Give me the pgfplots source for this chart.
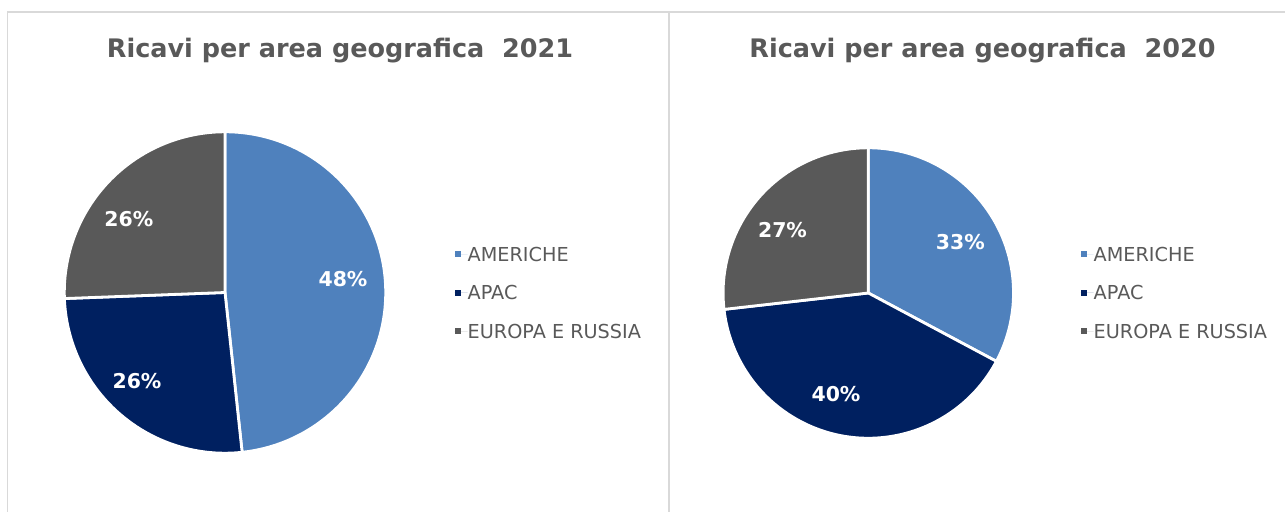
\documentclass[border=0pt]{standalone}
\usepackage{fontspec}
\setmainfont{DejaVu Sans}
\usepackage{pgfplots}
\usepackage{pgfplotstable}
\pgfplotsset{compat=1.18}
\definecolor{amer}{HTML}{4F81BD}
\definecolor{apac}{HTML}{002060}
\definecolor{eur}{HTML}{595959}
\definecolor{txtgray}{HTML}{595959}
\definecolor{panel}{HTML}{D9D9D9}

% Revenue shares (percent)
\pgfplotstableread{
region value
Americhe 48.3
APAC 26.1
Europa 25.6
}\datatwentyone
\pgfplotstableread{
region value
Americhe 32.8
APAC 40.4
Europa 26.8
}\datatwentytwenty

\pgfplotsset{
  pieaxis/.style={
    scale only axis, hide axis, clip=false,
    ymin=0, ymax=512, height=512bp,
    legend style={draw=none, fill=none, inner sep=0pt, outer sep=0pt,
      font=\fontsize{19.3}{22}\selectfont, text=txtgray,
      row sep=24.3bp, column sep=0pt,
      cells={anchor=west},
      nodes={inner sep=0pt, outer sep=0pt, text height=14.07bp, text depth=0pt, anchor=west}},
    legend image code/.code={\fill[##1] (0bp,-3.15bp) rectangle (6.3bp,3.15bp); \path (0bp,0bp) -- (13bp,0bp);},
  },
}
\tikzset{
  slice/.style={draw=white, line width=2.8bp, line join=round},
  pielabel/.style={text=white, font=\fontsize{20.5}{24}\selectfont\bfseries},
  pietitle/.style={anchor=base, text=txtgray, font=\fontsize{25.6}{30}\selectfont\bfseries},
}

\begin{document}
\begin{tikzpicture}
\useasboundingbox (0,0) rectangle (1285bp,512bp);
% angles 2021
\pgfplotstablegetelem{0}{value}\of\datatwentyone \let\va\pgfplotsretval
\pgfplotstablegetelem{1}{value}\of\datatwentyone \let\vb\pgfplotsretval
\pgfplotstablegetelem{2}{value}\of\datatwentyone \let\vc\pgfplotsretval
\pgfmathsetmacro{\sone}{\va+\vb+\vc}
\pgfmathsetmacro{\aoneA}{90-360*(\va/\sone)}
\pgfmathsetmacro{\aoneB}{90-360*((\va+\vb)/\sone)}
% angles 2020
\pgfplotstablegetelem{0}{value}\of\datatwentytwenty \let\wa\pgfplotsretval
\pgfplotstablegetelem{1}{value}\of\datatwentytwenty \let\wb\pgfplotsretval
\pgfplotstablegetelem{2}{value}\of\datatwentytwenty \let\wc\pgfplotsretval
\pgfmathsetmacro{\stwo}{\wa+\wb+\wc}
\pgfmathsetmacro{\atwoA}{90-360*(\wa/\stwo)}
\pgfmathsetmacro{\atwoB}{90-360*((\wa+\wb)/\stwo)}

\begin{axis}[pieaxis, at={(0bp,0bp)}, anchor=south west,
  xmin=0, xmax=669, width=669bp,
  legend style={at={(axis cs:454.7,264.7)}, anchor=north west}]
  \draw[panel, line width=1.6bp] (axis cs:7.5,0) -- (axis cs:7.5,500.2) -- (axis cs:669,500.2) -- (axis cs:669,0);
  \fill[amer, slice] (axis cs:225,219.5) -- ++(90:160.7bp) arc[start angle=90, end angle=\aoneA, radius=160.7bp] -- cycle;
  \fill[apac, slice] (axis cs:225,219.5) -- ++(\aoneA:160.7bp) arc[start angle=\aoneA, end angle=\aoneB, radius=160.7bp] -- cycle;
  \fill[eur, slice] (axis cs:225,219.5) -- ++(\aoneB:160.7bp) arc[start angle=\aoneB, end angle=-270, radius=160.7bp] -- cycle;
  \node[pielabel] at (axis cs:343,233) {48\%};
  \node[pielabel] at (axis cs:137,131.2) {26\%};
  \node[pielabel] at (axis cs:128.8,292.7) {26\%};
  \node[pietitle] at (axis cs:340,454) {Ricavi per area geografica\ \ 2021};
  \addlegendimage{fill=amer, draw=none}\addlegendentry{AMERICHE}
  \addlegendimage{fill=apac, draw=none}\addlegendentry{APAC}
  \addlegendimage{fill=eur, draw=none}\addlegendentry{EUROPA E RUSSIA}
\end{axis}

\begin{axis}[pieaxis, at={(669bp,0bp)}, anchor=south west,
  xmin=669, xmax=1285, width=616bp,
  legend style={at={(axis cs:1080.7,264.7)}, anchor=north west}]
  \draw[panel, line width=1.6bp] (axis cs:669,500.2) -- (axis cs:1285,500.2);
  \fill[amer, slice] (axis cs:868.3,219) -- ++(90:145.2bp) arc[start angle=90, end angle=\atwoA, radius=145.2bp] -- cycle;
  \fill[apac, slice] (axis cs:868.3,219) -- ++(\atwoA:145.2bp) arc[start angle=\atwoA, end angle=\atwoB, radius=145.2bp] -- cycle;
  \fill[eur, slice] (axis cs:868.3,219) -- ++(\atwoB:145.2bp) arc[start angle=\atwoB, end angle=-270, radius=145.2bp] -- cycle;
  \node[pielabel] at (axis cs:960.3,269.7) {33\%};
  \node[pielabel] at (axis cs:836,117.5) {40\%};
  \node[pielabel] at (axis cs:782.5,282) {27\%};
  \node[pietitle] at (axis cs:982.5,454) {Ricavi per area geografica\ \ 2020};
  \addlegendimage{fill=amer, draw=none}\addlegendentry{AMERICHE}
  \addlegendimage{fill=apac, draw=none}\addlegendentry{APAC}
  \addlegendimage{fill=eur, draw=none}\addlegendentry{EUROPA E RUSSIA}
\end{axis}
\end{tikzpicture}
\end{document}
